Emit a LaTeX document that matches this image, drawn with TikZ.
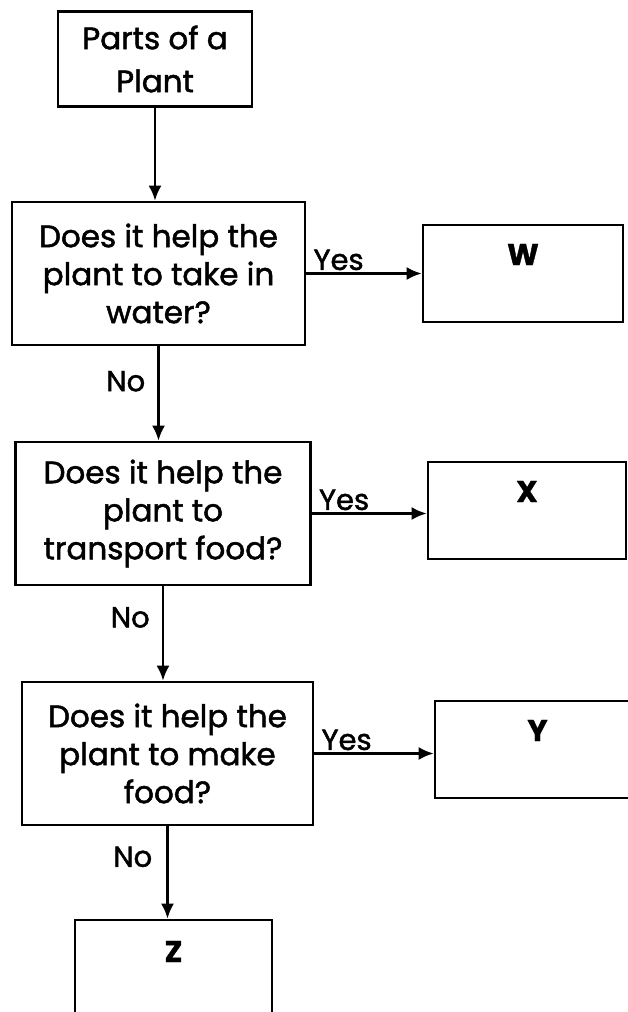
\documentclass[tikz,border=0pt]{standalone}
\usepackage{fontspec}
\setmainfont{Poppins}[FakeBold=1.2]
\newfontfamily\heavy{Poppins}[FakeBold=1.6]
\usetikzlibrary{arrows.meta}
\begin{document}
\begin{tikzpicture}[x=1pt,y=-1pt,
  box/.style={draw, line width=2.6pt, inner sep=0pt, align=center},
  qbox/.style={box, minimum width=#1, minimum height=143pt, font=\heavy\fontsize{31}{38}\selectfont},
  abox/.style={box, text width=#1, text height=40pt, text depth=57pt, font=\bfseries\fontsize{30}{30}\selectfont},
  lbl/.style={font=\heavy\fontsize{29}{30}\selectfont, inner sep=2pt},
  arr/.style={line width=2.6pt, -{Latex[length=15pt,width=13pt]}}]
\useasboundingbox (0,0) rectangle (628,1012);
\node[box, minimum width=194pt, minimum height=95pt, font=\heavy\fontsize{31}{43}\selectfont] (P) at (155,59) {Parts of a\\Plant};
\node[qbox=293pt] (Q1) at (158.5,273.5) {Does it help the\\plant to take in\\water?};
\node[abox=200pt] (W) at (523,273.5) {W};
\node[qbox=295pt] (Q2) at (163,513.5) {Does it help the\\plant to\\transport food?};
\node[abox=198pt] (X) at (527,510.5) {X};
\node[qbox=291pt] (Q3) at (167.5,753.5) {Does it help the\\plant to make\\food?};
\node[abox=205pt] (Y) at (537.5,749.5) {Y};
\node[box, text width=197pt, text height=42pt, text depth=68pt, font=\bfseries\fontsize{30}{30}\selectfont] (Z) at (173.5,975) {Z};
\draw[arr] (P.south) -- (P.south |- Q1.north);
\draw[arr] (Q1.east) -- (W.west) node[lbl, pos=0, anchor=south west, xshift=4pt] {Yes};
\draw[arr] (Q1.south) -- (Q1.south |- Q2.north) node[lbl, pos=0.37, anchor=east, xshift=-10pt] {No};
\draw[arr] (Q2.east) -- (Q2.east -| X.west) node[lbl, pos=0, anchor=south west, xshift=4pt] {Yes};
\draw[arr] (Q2.south) -- (Q2.south |- Q3.north) node[lbl, pos=0.33, anchor=east, xshift=-10pt] {No};
\draw[arr] (Q3.east) -- (Q3.east -| Y.west) node[lbl, pos=0, anchor=south west, xshift=4pt] {Yes};
\draw[arr] (Q3.south) -- (Q3.south |- Z.north) node[lbl, pos=0.33, anchor=east, xshift=-12pt] {No};
\end{tikzpicture}
\end{document}
